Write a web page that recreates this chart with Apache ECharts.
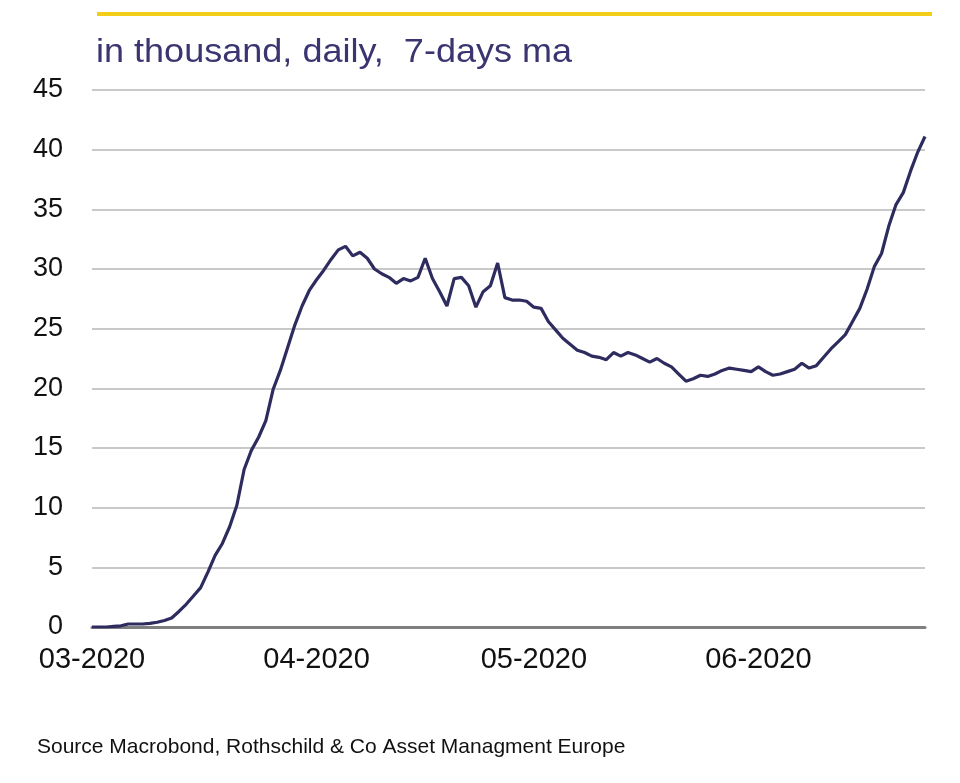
<!DOCTYPE html>
<html>
<head>
<meta charset="utf-8">
<script src="https://cdn.jsdelivr.net/npm/echarts@6/dist/echarts.min.js"></script>
<style>
html,body{margin:0;padding:0;background:#fff;}
#chart{width:960px;height:783px;}
</style>
</head>
<body>
<div id="chart"></div>
<script>
// Daily, 7-day moving average, in thousand, starting 2020-03-01
const startDate = '2020-03-01';
const values = [
  0.0, 0.0, 0.0, 0.05, 0.1, 0.25, 0.25, 0.25, 0.3, 0.4,
  0.55, 0.75, 1.3, 1.9, 2.6, 3.3, 4.6, 6.0, 7.0, 8.4,
  10.2, 13.2, 14.8, 15.9, 17.3, 19.9, 21.5, 23.4, 25.3, 26.9,
  28.2, 29.1, 29.9, 30.8, 31.6, 31.9, 31.1, 31.4, 30.9, 30.0,
  29.6, 29.3, 28.8, 29.2, 29.0, 29.3, 30.9, 29.2, 28.1, 26.9,
  29.2, 29.3, 28.6, 26.8, 28.1, 28.6, 30.5, 27.6, 27.4, 27.4,
  27.3, 26.8, 26.7, 25.6, 24.9, 24.2, 23.7, 23.2, 23.0, 22.7,
  22.6, 22.4, 23.0, 22.7, 23.0, 22.8, 22.5, 22.2, 22.5, 22.1,
  21.8, 21.2, 20.6, 20.8, 21.1, 21.0, 21.2, 21.5, 21.7, 21.6,
  21.5, 21.4, 21.8, 21.4, 21.1, 21.2, 21.4, 21.6, 22.1, 21.7,
  21.9, 22.6, 23.3, 23.9, 24.5, 25.6, 26.7, 28.3, 30.2, 31.3,
  33.6, 35.4, 36.4, 38.2, 39.8, 41.1
];
const yTicks = [0, 5, 10, 15, 20, 25, 30, 35, 40, 45];
const titleText = 'in thousand, daily,  7-days ma';
const sourceText = 'Source Macrobond, Rothschild & Co Asset Managment Europe';

// build daily date categories
const categories = [];
(function(){
  const d0 = new Date(startDate + 'T00:00:00Z');
  for (let i = 0; i < values.length; i++) {
    const d = new Date(d0.getTime() + i * 86400000);
    const m = String(d.getUTCMonth() + 1).padStart(2, '0');
    const dd = String(d.getUTCDate()).padStart(2, '0');
    categories.push(d.getUTCFullYear() + '-' + m + '-' + dd);
  }
})();

const chart = echarts.init(document.getElementById('chart'), null, {renderer: 'canvas'});
const FONT = '"Liberation Sans", Arial, sans-serif';
chart.setOption({
  animation: false,
  backgroundColor: '#ffffff',
  grid: {left: 92, right: 35, top: 90, bottom: 156, containLabel: false},
  xAxis: {
    type: 'category',
    data: categories,
    boundaryGap: false,
    axisLine: {show: true, lineStyle: {color: '#7f7f7f', width: 3}},
    axisTick: {show: false},
    splitLine: {show: false},
    axisLabel: {
      interval: function (idx, val) { return val.slice(8) === '01'; },
      formatter: function (val) { return val.slice(5, 7) + '-' + val.slice(0, 4); },
      color: '#111111',
      fontFamily: FONT,
      fontSize: 29,
      margin: 18,
      showMinLabel: true
    }
  },
  yAxis: {
    type: 'value',
    min: yTicks[0],
    max: yTicks[yTicks.length - 1],
    interval: 5,
    axisLine: {show: false},
    axisTick: {show: false},
    splitLine: {show: true, lineStyle: {color: '#c9c9c9', width: 2}},
    axisLabel: {color: '#111111', fontFamily: FONT, fontSize: 27, margin: 29}
  },
  series: [{
    type: 'line',
    data: values,
    showSymbol: false,
    symbol: 'none',
    lineStyle: {color: '#2e2b5f', width: 3.2},
    z: 5
  }],
  graphic: [
    {
      type: 'rect',
      shape: {x: 97, y: 12, width: 835, height: 4},
      style: {fill: '#f2cd1a'}
    },
    {
      type: 'text',
      x: 96, y: 36,
      scaleX: 1.06,
      style: {text: titleText, fill: '#3a3570', font: '34px ' + FONT}
    },
    {
      type: 'text',
      left: 37, top: 737,
      style: {text: sourceText, fill: '#111111', font: '21px ' + FONT}
    }
  ]
});
</script>
</body>
</html>
